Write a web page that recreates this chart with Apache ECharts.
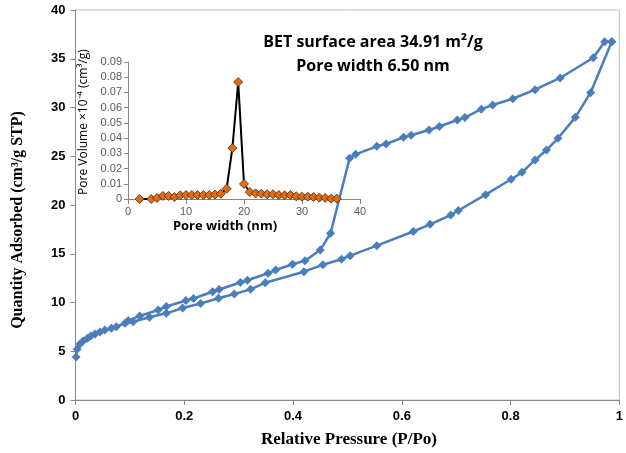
<!DOCTYPE html>
<html>
<head>
<meta charset="utf-8">
<script src="https://cdn.jsdelivr.net/npm/echarts@6/dist/echarts.min.js"></script>
<style>
  html, body { margin: 0; padding: 0; background: #fff; }
  #chart { width: 626px; height: 453px; }
</style>
</head>
<body>
<div id="chart"></div>
<script>
// Nitrogen isotherm: adsorption branch (P/Po, quantity adsorbed)
const adsP = [0.001, 0.003, 0.008, 0.014, 0.022, 0.028, 0.036, 0.045, 0.054, 0.066, 0.075,
  0.091, 0.106, 0.136, 0.167, 0.197, 0.230, 0.263, 0.292, 0.322, 0.349, 0.420, 0.455,
  0.489, 0.505, 0.554, 0.621, 0.652, 0.690, 0.704, 0.754, 0.801, 0.821, 0.845, 0.866,
  0.887, 0.919, 0.947, 0.986];
const adsQ = [4.4, 5.2, 5.74, 6.05, 6.33, 6.56, 6.77, 6.97, 7.18, 7.35, 7.52,
  7.87, 8.03, 8.48, 8.89, 9.44, 9.9, 10.43, 10.87, 11.35, 12.03, 13.16, 13.87,
  14.44, 14.8, 15.83, 17.28, 18.02, 18.97, 19.44, 21.06, 22.64, 23.35, 24.62, 25.64,
  26.84, 28.99, 31.52, 36.75];

// Desorption branch
const desP = [0.986, 0.973, 0.952, 0.891, 0.845, 0.804, 0.767, 0.746, 0.716, 0.702, 0.669,
  0.650, 0.617, 0.603, 0.571, 0.554, 0.515, 0.504, 0.469, 0.450, 0.422, 0.399, 0.368,
  0.354, 0.316, 0.303, 0.264, 0.252, 0.217, 0.203, 0.167, 0.152, 0.118, 0.097];
const desQ = [36.75, 36.75, 35.1, 33.03, 31.83, 30.9, 30.26, 29.83, 28.97, 28.72, 28.05,
  27.69, 27.15, 26.94, 26.26, 26.02, 25.2, 24.79, 17.1, 15.38, 14.29, 13.92, 13.33,
  13.0, 12.28, 12.05, 11.33, 11.1, 10.41, 10.2, 9.59, 9.23, 8.62, 8.15];

// Pore size distribution (inset)
const poreWidth = [2, 4, 5, 6, 7, 8, 9, 10, 11, 12, 13, 14, 15, 16, 17, 18, 19, 20, 21, 22,
  23, 24, 25, 26, 27, 28, 29, 30, 31, 32, 33, 34, 35, 36];
const poreVolume = [0, 0, 0.0007, 0.002, 0.002, 0.0013, 0.0024, 0.0026, 0.0026, 0.0026,
  0.0026, 0.0026, 0.0029, 0.0035, 0.0068, 0.0334, 0.0768, 0.0099, 0.0046, 0.0037,
  0.0035, 0.0031, 0.0031, 0.0026, 0.0024, 0.0026, 0.0018, 0.0015, 0.0015, 0.0013,
  0.0009, 0.0007, 0.0002, 0.0002];

const annotationLines = ['BET surface area 34.91 m\u00B2/g', 'Pore width 6.50 nm'];
const xTitle = 'Relative Pressure (P/Po)';
const yTitle = 'Quantity Adsorbed (cm\u00B3/g STP)';
const insetXTitle = 'Pore width (nm)';
const insetYTitle = 'Pore Volume \u00D710\u207B\u2074 (cm\u00B3/g)';

const pairs = (xs, ys) => xs.map((x, i) => [x, ys[i]]);

const axisGray = '#868686';
const blue = '#4A7EBB';

const chart = echarts.init(document.getElementById('chart'), null, { renderer: 'canvas' });

chart.setOption({
  animation: false,
  backgroundColor: '#fff',
  grid: [
    { left: 75.5, right: 4, top: 10, bottom: 53, show: true, borderColor: '#bfbfbf', borderWidth: 1 },
    { left: 128, right: 266, top: 62, bottom: 254 }
  ],
  xAxis: [
    {
      gridIndex: 0, type: 'value', min: 0, max: 1, interval: 0.2,
      axisLine: { lineStyle: { color: axisGray, width: 1 } },
      axisTick: { show: true, inside: false, length: 5, lineStyle: { color: axisGray } },
      splitLine: { show: false },
      axisLabel: { color: '#000', fontWeight: 'bold', fontSize: 13, fontFamily: 'Liberation Sans', margin: 10 }
    },
    {
      gridIndex: 1, type: 'value', min: 0, max: 40, interval: 10,
      axisLine: { lineStyle: { color: axisGray, width: 1 } },
      axisTick: { show: true, length: 5, lineStyle: { color: axisGray } },
      splitLine: { show: false },
      axisLabel: { color: '#595959', fontSize: 11, fontFamily: 'Liberation Sans', margin: 7 }
    }
  ],
  yAxis: [
    {
      gridIndex: 0, type: 'value', min: 0, max: 40, interval: 5,
      axisLine: { show: true, lineStyle: { color: axisGray, width: 1 } },
      axisTick: { show: true, length: 5, lineStyle: { color: axisGray } },
      splitLine: { show: false },
      axisLabel: { color: '#000', fontWeight: 'bold', fontSize: 13, fontFamily: 'Liberation Sans', margin: 10 }
    },
    {
      gridIndex: 1, type: 'value', min: 0, max: 0.09, interval: 0.01,
      axisLine: { show: true, lineStyle: { color: axisGray, width: 1 } },
      axisTick: { show: true, length: 4, lineStyle: { color: axisGray } },
      splitLine: { show: false },
      axisLabel: {
        color: '#595959', fontSize: 11, fontFamily: 'Liberation Sans', margin: 6,
        formatter: v => (v === 0 ? '0' : v.toFixed(2))
      }
    }
  ],
  series: [
    {
      name: 'Adsorption', type: 'line', xAxisIndex: 0, yAxisIndex: 0,
      data: pairs(adsP, adsQ),
      symbol: 'diamond', symbolSize: 9,
      lineStyle: { color: blue, width: 2.5 },
      itemStyle: { color: blue },
      z: 3
    },
    {
      name: 'Desorption', type: 'line', xAxisIndex: 0, yAxisIndex: 0,
      data: pairs(desP, desQ),
      symbol: 'diamond', symbolSize: 9,
      lineStyle: { color: blue, width: 2.5 },
      itemStyle: { color: blue },
      z: 3
    },
    {
      name: 'Pore volume', type: 'line', xAxisIndex: 1, yAxisIndex: 1,
      data: pairs(poreWidth, poreVolume),
      symbol: 'diamond', symbolSize: 9,
      lineStyle: { color: '#000', width: 2 },
      itemStyle: { color: '#E46C0A', borderColor: '#3a2a1a', borderWidth: 0.8 },
      z: 4
    }
  ],
  graphic: [
    {
      type: 'text', z: 10,
      style: {
        text: annotationLines[0], x: 373, y: 42, align: 'center', verticalAlign: 'middle',
        font: 'bold 16px "Open Sans"', fill: '#000'
      }
    },
    {
      type: 'text', z: 10,
      style: {
        text: annotationLines[1], x: 373, y: 66, align: 'center', verticalAlign: 'middle',
        font: 'bold 16px "Open Sans"', fill: '#000'
      }
    },
    {
      type: 'text', z: 10,
      style: {
        text: xTitle, x: 349, y: 440, align: 'center', verticalAlign: 'middle',
        font: 'bold 17px "Liberation Serif"', fill: '#000'
      }
    },
    {
      type: 'text', z: 10, x: 18, y: 220, rotation: Math.PI / 2,
      style: {
        text: yTitle, x: 0, y: 0, align: 'center', verticalAlign: 'middle',
        font: 'bold 16px "Liberation Serif"', fill: '#000'
      }
    },
    {
      type: 'text', z: 10,
      style: {
        text: insetXTitle, x: 225, y: 226, align: 'center', verticalAlign: 'middle',
        font: 'bold 13px "Open Sans"', fill: '#000'
      }
    },
    {
      type: 'text', z: 10, x: 84, y: 122, rotation: Math.PI / 2,
      style: {
        text: insetYTitle, x: 0, y: 0, align: 'center', verticalAlign: 'middle',
        font: '12px "Open Sans"', fill: '#000'
      }
    }
  ]
});
</script>
</body>
</html>
